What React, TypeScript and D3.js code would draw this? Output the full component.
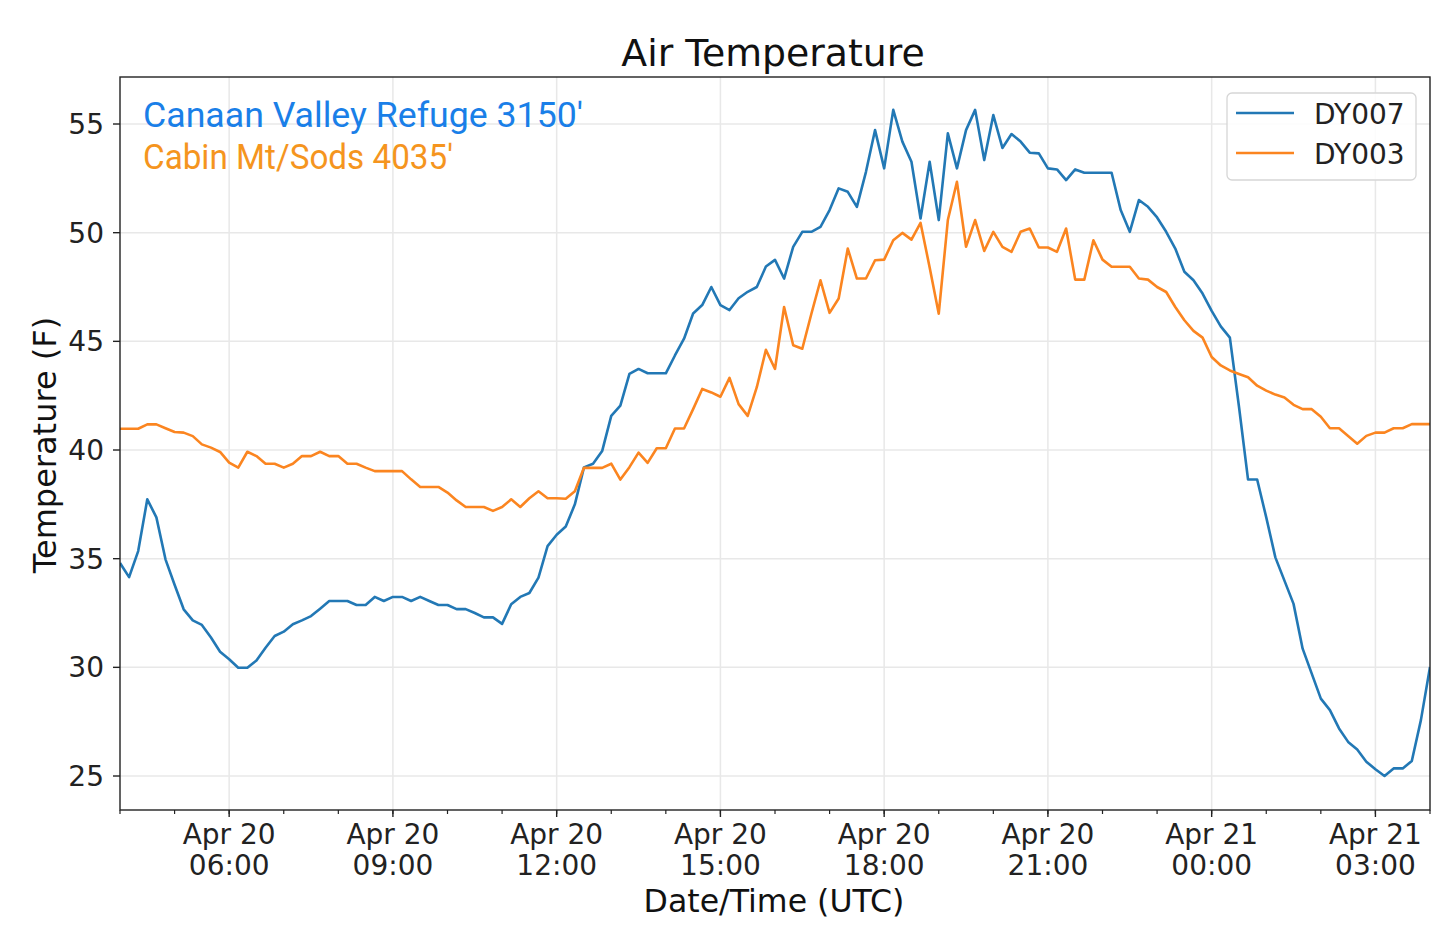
import React from "react";
import * as d3 from "d3";

// 10-minute samples, Apr 20 04:00 UTC to Apr 21 04:00 UTC
const startTime = Date.UTC(2020, 3, 20, 4, 0);
const stepMinutes = 10;

const dy007 = [
  34.8, 34.15, 35.35, 37.73, 36.9, 34.97, 33.8, 32.67, 32.16, 31.95,
  31.37, 30.72, 30.37, 29.98, 29.98, 30.32, 30.9, 31.44, 31.64, 31.98,
  32.16, 32.36, 32.7, 33.05, 33.05, 33.05, 32.87, 32.87, 33.24, 33.05,
  33.24, 33.24, 33.05, 33.24, 33.05, 32.87, 32.87, 32.68, 32.68, 32.5,
  32.3, 32.3, 32.0, 32.9, 33.24, 33.42, 34.13, 35.58, 36.1, 36.48,
  37.5, 39.2, 39.37, 39.95, 41.57, 42.04, 43.5, 43.73, 43.53, 43.53,
  43.53, 44.35, 45.12, 46.28, 46.67, 47.5, 46.67, 46.44, 46.98, 47.28,
  47.5, 48.44, 48.75, 47.89, 49.35, 50.04, 50.04, 50.27, 51.04, 52.04,
  51.88, 51.19, 52.8, 54.72, 52.96, 55.65, 54.19, 53.26, 50.65, 53.26,
  50.58, 54.57, 52.96, 54.72, 55.65, 53.34, 55.41, 53.9, 54.54, 54.19,
  53.68, 53.65, 52.96, 52.91, 52.42, 52.91, 52.76, 52.76, 52.76, 52.76,
  51.04, 50.04, 51.5, 51.19, 50.7, 50.04, 49.27, 48.2, 47.81, 47.2,
  46.4, 45.69, 45.17, 42.0, 38.64, 38.64, 36.9, 35.06, 33.99, 32.92,
  30.86, 29.71, 28.56, 28.03, 27.19, 26.57, 26.22, 25.66, 25.31, 25.0,
  25.35, 25.35, 25.69, 27.57, 30.02,
];

const dy003 = [
  40.98, 40.98, 40.98, 41.18, 41.18, 41.0, 40.83, 40.8, 40.64, 40.26,
  40.11, 39.91, 39.42, 39.19, 39.92, 39.72, 39.37, 39.37, 39.19, 39.37,
  39.72, 39.72, 39.92, 39.72, 39.72, 39.37, 39.37, 39.19, 39.03, 39.03,
  39.03, 39.03, 38.65, 38.3, 38.3, 38.3, 38.04, 37.68, 37.38, 37.38,
  37.38, 37.2, 37.38, 37.73, 37.38, 37.78, 38.1, 37.78, 37.78, 37.76,
  38.1, 39.18, 39.18, 39.18, 39.37, 38.64, 39.21, 39.88, 39.41, 40.08,
  40.08, 40.99, 40.99, 41.88, 42.81, 42.65, 42.45, 43.32, 42.11, 41.57,
  42.89, 44.61, 43.73, 46.58, 44.82, 44.66, 46.27, 47.81, 46.31, 46.97,
  49.27, 47.89, 47.89, 48.73, 48.76, 49.65, 49.99, 49.68, 50.45, 48.4,
  46.27, 50.58, 52.34, 49.35, 50.58, 49.16, 50.04, 49.35, 49.12, 50.04,
  50.19, 49.32, 49.32, 49.12, 50.19, 47.84, 47.84, 49.65, 48.76, 48.43,
  48.43, 48.43, 47.89, 47.84, 47.5, 47.27, 46.58, 45.97, 45.48, 45.17,
  44.28, 43.89, 43.66, 43.5, 43.35, 42.96, 42.73, 42.55, 42.42, 42.08,
  41.88, 41.88, 41.53, 41.0, 41.0, 40.65, 40.29, 40.65, 40.8, 40.8,
  41.0, 41.0, 41.19, 41.19, 41.19,
];

const yTicks = [25, 30, 35, 40, 45, 50, 55];
const seriesNames = ["DY007", "DY003"];
const annotations = ["Canaan Valley Refuge 3150'", "Cabin Mt/Sods 4035'"];

const W = 1435;
const H = 937;
const left = 120;
const right = 1430;
const top = 77;
const bottom = 810;

const lineBlue = "#2278b5";
const lineOrange = "#fb8520";
const axisFont = "'DejaVu Sans', sans-serif";

export default function App() {
  const times = dy007.map((_, i) => new Date(startTime + i * stepMinutes * 60000));
  const x = d3
    .scaleUtc()
    .domain([times[0], times[times.length - 1]])
    .range([left, right]);
  const y = d3.scaleLinear().domain([23.436, 57.163]).range([bottom, top]);

  const line = d3
    .line<number>()
    .x((_, i) => x(times[i]))
    .y((d) => y(d));

  const majors = x.ticks(d3.utcHour.every(3)!);
  const minors = x.ticks(d3.utcHour.every(1)!);
  const fmtDay = d3.utcFormat("%b %d");
  const fmtHour = d3.utcFormat("%H:%M");

  return (
    <svg
      width={W}
      height={H}
      style={{ position: "absolute", left: 0, top: 0, background: "#fff" }}
    >
      <defs>
        <clipPath id="plot">
          <rect x={left} y={top} width={right - left} height={bottom - top} />
        </clipPath>
      </defs>

      {/* grid */}
      <g stroke="#e8e8e8" strokeWidth={1.5}>
        {majors.map((t) => (
          <line key={"gx" + t.getTime()} x1={x(t)} x2={x(t)} y1={top} y2={bottom} />
        ))}
        {yTicks.map((v) => (
          <line key={"gy" + v} x1={left} x2={right} y1={y(v)} y2={y(v)} />
        ))}
      </g>

      {/* series */}
      <g clipPath="url(#plot)" fill="none" strokeWidth={2.6} strokeLinejoin="round">
        <path d={line(dy007) ?? ""} stroke={lineBlue} />
        <path d={line(dy003) ?? ""} stroke={lineOrange} />
      </g>

      {/* frame */}
      <rect
        x={left}
        y={top}
        width={right - left}
        height={bottom - top}
        fill="none"
        stroke="#222"
        strokeWidth={1.4}
      />

      {/* y axis */}
      <g fontFamily={axisFont} fontSize={28} fill="#222">
        {yTicks.map((v) => (
          <g key={"yt" + v}>
            <line x1={left - 7} x2={left} y1={y(v)} y2={y(v)} stroke="#222" strokeWidth={1.4} />
            <text x={left - 16} y={y(v)} dy="0.36em" textAnchor="end">
              {v}
            </text>
          </g>
        ))}
      </g>

      {/* x axis */}
      <g fontFamily={axisFont} fontSize={28} fill="#222">
        {minors.map((t) => (
          <line
            key={"mn" + t.getTime()}
            x1={x(t)}
            x2={x(t)}
            y1={bottom}
            y2={bottom + 4}
            stroke="#222"
            strokeWidth={1.2}
          />
        ))}
        {majors.map((t) => (
          <g key={"mj" + t.getTime()}>
            <line x1={x(t)} x2={x(t)} y1={bottom} y2={bottom + 7} stroke="#222" strokeWidth={1.4} />
            <text x={x(t)} y={844} textAnchor="middle">
              {fmtDay(t)}
            </text>
            <text x={x(t)} y={875} textAnchor="middle">
              {fmtHour(t)}
            </text>
          </g>
        ))}
      </g>

      {/* labels */}
      <text
        x={773}
        y={66}
        textAnchor="middle"
        fontFamily={axisFont}
        fontSize={37.8}
        fill="#111"
      >
        Air Temperature
      </text>
      <text
        x={774}
        y={912}
        textAnchor="middle"
        fontFamily={axisFont}
        fontSize={31.6}
        fill="#111"
      >
        Date/Time (UTC)
      </text>
      <text
        transform={`translate(56,${445}) rotate(-90)`}
        textAnchor="middle"
        fontFamily={axisFont}
        fontSize={32}
        fill="#111"
      >
        Temperature (F)
      </text>

      {/* station annotations */}
      <g fontFamily="Roboto, sans-serif" fontSize={34.5}>
        <text x={143} y={127} fill="#1a7fe8" textLength={440} lengthAdjust="spacingAndGlyphs">
          {annotations[0]}
        </text>
        <text x={143} y={169} fill="#f5951e" textLength={310} lengthAdjust="spacingAndGlyphs">
          {annotations[1]}
        </text>
      </g>

      {/* legend */}
      <g>
        <rect
          x={1227}
          y={93}
          width={189}
          height={87}
          rx={5}
          fill="#fff"
          fillOpacity={0.85}
          stroke="#d6d6d6"
          strokeWidth={1.3}
        />
        {seriesNames.map((name, i) => (
          <g key={name} transform={`translate(0,${113 + i * 40})`}>
            <line
              x1={1236}
              x2={1294}
              y1={0}
              y2={0}
              stroke={i === 0 ? lineBlue : lineOrange}
              strokeWidth={2.6}
            />
            <text x={1314} y={11} fontFamily={axisFont} fontSize={28} fill="#222">
              {name}
            </text>
          </g>
        ))}
      </g>
    </svg>
  );
}
